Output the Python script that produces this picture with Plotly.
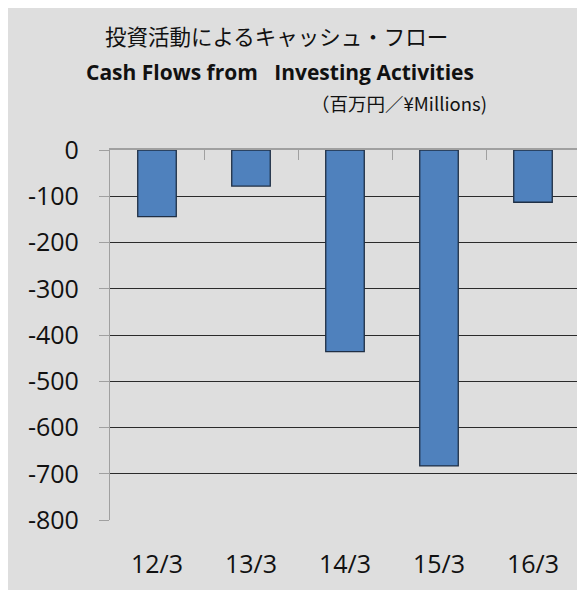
import plotly.graph_objects as go

categories = ["12/3", "13/3", "14/3", "15/3", "16/3"]
values = [-144, -78, -436, -683, -113]
y_ticks = [0, -100, -200, -300, -400, -500, -600, -700, -800]
y_tick_text = ["0", "-100", "-200", "-300", "-400", "-500", "-600", "-700", "-800"]
boundaries = [-0.5, 0.5, 1.5, 2.5, 3.5, 4.5]

title_jp = "投資活動によるキャッシュ・フロー"
title_en = "Cash Flows from&nbsp;&nbsp; Investing Activities"
unit_label = "（百万円／¥Millions)"

# page offset of the figure (browser body margin)
OFF = 8
W, H = 577, 582
L, R, T, B = 110 - OFF, 5, 150 - OFF, 70
pw, ph = W - L - R, H - T - B


def px_x(page_x):
    return (page_x - OFF - L) / pw


def px_y(page_y):
    return 1 - (page_y - OFF - T) / ph


fig = go.Figure()
fig.add_trace(go.Bar(
    x=categories, y=values,
    marker=dict(color="#4f81bd", line=dict(color="#1f2f45", width=1.3)),
    xaxis="x", yaxis="y", hoverinfo="x+y",
))
# invisible helper so the top boundary-tick axis is drawn
fig.add_trace(go.Scatter(
    x=[boundaries[0], boundaries[-1]], y=[y_ticks[0], y_ticks[0]],
    mode="lines", line=dict(width=0), opacity=0, hoverinfo="skip",
    xaxis="x2", yaxis="y",
))

GRAY = "#dedede"
num_font = dict(family="Open Sans, Lato, sans-serif", size=25, color="#111111")

fig.update_layout(
    width=W, height=H,
    margin=dict(l=L, r=R, t=T, b=B, autoexpand=False),
    paper_bgcolor=GRAY,
    plot_bgcolor=GRAY,
    showlegend=False,
    bargap=0.59,
    xaxis=dict(
        type="category", categoryorder="array", categoryarray=categories,
        range=[-0.5, 4.5], showline=False, showgrid=False, zeroline=False,
        ticks="", tickfont=num_font, ticklabelstandoff=27, automargin=False,
    ),
    xaxis2=dict(
        overlaying="x", anchor="y", side="top", range=[-0.5, 4.5],
        tickmode="array", tickvals=boundaries, showticklabels=False,
        ticks="inside", ticklen=10, tickcolor="#a0a0a0", tickwidth=1.3,
        showline=True, linecolor="#a0a0a0", linewidth=1.5,
        showgrid=False, zeroline=False, automargin=False,
    ),
    yaxis=dict(
        range=[-800, 0], tickmode="array", tickvals=y_ticks, ticktext=y_tick_text,
        showline=True, linecolor="#a0a0a0", linewidth=1.3,
        ticks="outside", ticklen=10, tickcolor="#a0a0a0", tickwidth=1.3,
        showgrid=True, gridcolor="#2a2a2a", gridwidth=1.3,
        zeroline=False, tickfont=num_font, ticklabelstandoff=15, automargin=False,
    ),
    annotations=[
        dict(text=title_jp, xref="paper", yref="paper",
             x=px_x(276), y=px_y(35), xanchor="center", yanchor="middle",
             showarrow=False,
             font=dict(family="Noto Sans CJK JP", size=21.5, color="#111111")),
        dict(text="<b>" + title_en + "</b>", xref="paper", yref="paper",
             x=px_x(280), y=px_y(72), xanchor="center", yanchor="middle",
             showarrow=False,
             font=dict(family="Open Sans, Lato, sans-serif", size=21, color="#111111")),
        dict(text=unit_label, xref="paper", yref="paper",
             x=px_x(489), y=px_y(103), xanchor="right", yanchor="middle",
             showarrow=False,
             font=dict(family="Noto Sans CJK JP", size=18.5, color="#111111")),
    ],
)

fig.write_html("out.html")
